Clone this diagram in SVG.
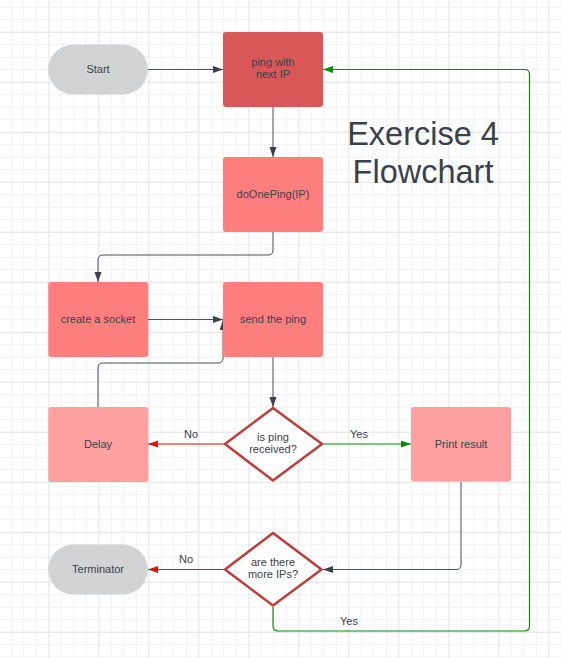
<svg xmlns="http://www.w3.org/2000/svg" width="561" height="658" viewBox="0 0 561 658">
<defs>
<pattern id="minor" patternUnits="userSpaceOnUse" x="10.8" y="6.7" width="12.5" height="12.5">
<path d="M0,0 V12.5 M0,0 H12.5" stroke="#eeeeee" stroke-width="1.5" fill="none"/>
</pattern>
<pattern id="major" patternUnits="userSpaceOnUse" x="48.3" y="31.7" width="50" height="50">
<path d="M0,0 V50 M0,0 H50" stroke="#d9d9d9" stroke-width="1" fill="none"/>
</pattern>
<marker id="ah" markerUnits="userSpaceOnUse" markerWidth="10" markerHeight="8" refX="10" refY="3.5" orient="auto">
<path d="M0,0 L10,3.5 L0,7 z" fill="#3a414a"/>
</marker>
<marker id="ahr" markerUnits="userSpaceOnUse" markerWidth="10" markerHeight="8" refX="10" refY="3.5" orient="auto">
<path d="M0,0 L10,3.5 L0,7 z" fill="#e01010"/>
</marker>
<marker id="ahg" markerUnits="userSpaceOnUse" markerWidth="10" markerHeight="8" refX="10" refY="3.5" orient="auto">
<path d="M0,0 L10,3.5 L0,7 z" fill="#0b8a0b"/>
</marker>
</defs>
<style>
text{font-family:"Liberation Sans",Arial,sans-serif;font-size:11px;fill:#3a414a;text-anchor:middle}
.title{font-size:32.5px}
.term{fill:#d2d3d5}
.dark{fill:#d95757}
.mid{fill:#ff7f7f}
.light{fill:#ffa0a0}
.dia{fill:#ffffff;stroke:#c03b3b;stroke-width:2.5;stroke-linejoin:round}
.c{fill:none;stroke:#4a525e;stroke-width:1}
.r{fill:none;stroke:#e01010;stroke-width:1.2}
.g{fill:none;stroke:#0b8a0b;stroke-width:1.2}
</style>
<rect width="561" height="658" fill="#ffffff"/>
<rect width="561" height="658" fill="url(#minor)"/>
<rect width="561" height="658" fill="url(#major)"/>

<g id="connectors">
<path class="c" d="M148,69.5 H223" marker-end="url(#ah)"/>
<path class="c" d="M273,107 V157" marker-end="url(#ah)"/>
<path class="c" d="M273,232 V250 Q273,255 268,255 H103 Q98,255 98,260 V282" marker-end="url(#ah)"/>
<path class="c" d="M148,319.5 H223" marker-end="url(#ah)"/>
<path class="c" d="M98,407 V368 Q98,363 103,363 H218 Q223,363 223,358 V320" marker-end="url(#ah)"/>
<path class="c" d="M273,357 V407" marker-end="url(#ah)"/>
<path class="r" d="M225,444 H148" marker-end="url(#ahr)"/>
<path class="g" d="M322,444 H411" marker-end="url(#ahg)"/>
<path class="c" d="M461,482 V564.5 Q461,569.5 456,569.5 H323" marker-end="url(#ah)"/>
<path class="r" d="M225,569.5 H148" marker-end="url(#ahr)"/>
<path class="g" d="M273,607 V626 Q273,631 278,631 H524.5 Q529.5,631 529.5,626 V74.5 Q529.5,69.5 524.5,69.5 H323" marker-end="url(#ahg)"/>
<text x="191" y="438">No</text>
<text x="359" y="438">Yes</text>
<text x="186" y="563">No</text>
<text x="349" y="624.5">Yes</text>
</g>

<g id="start"><rect class="term" x="48.3" y="44.5" width="99.5" height="50" rx="25"/><text x="98" y="72.5">Start</text></g>
<g id="ping"><rect class="dark" x="223" y="32" width="100" height="75" rx="3"/><text x="273" y="65.5">ping with</text><text x="273" y="78">next IP</text></g>
<g id="doOnePing"><rect class="mid" x="223" y="157" width="100" height="75" rx="3"/><text x="273" y="197.5">doOnePing(IP)</text></g>
<g id="socket"><rect class="mid" x="48.3" y="282" width="100" height="75" rx="3"/><text x="98" y="322.5">create a socket</text></g>
<g id="send"><rect class="mid" x="223" y="282" width="100" height="75" rx="3"/><text x="273" y="322.5">send the ping</text></g>
<g id="delay"><rect class="light" x="48.3" y="407" width="100" height="75" rx="3"/><text x="98" y="447.5">Delay</text></g>
<g id="received"><path class="dia" d="M273,408 L322,444 L273,480.5 L225,444 Z"/><text x="273" y="440.5">is ping</text><text x="273" y="453">received?</text></g>
<g id="print"><rect class="light" x="411" y="407" width="100" height="74.5" rx="3"/><text x="461" y="447.5">Print result</text></g>
<g id="more"><path class="dia" d="M273,533 L321.5,569.5 L273,605.5 L225,569.5 Z"/><text x="273" y="565.5">are there</text><text x="273" y="578">more IPs?</text></g>
<g id="terminator"><rect class="term" x="48.3" y="544.5" width="99.5" height="50" rx="25"/><text x="98" y="572.5">Terminator</text></g>
<g id="title"><text class="title" x="423" y="145">Exercise 4</text><text class="title" x="423" y="183">Flowchart</text></g>
</svg>
